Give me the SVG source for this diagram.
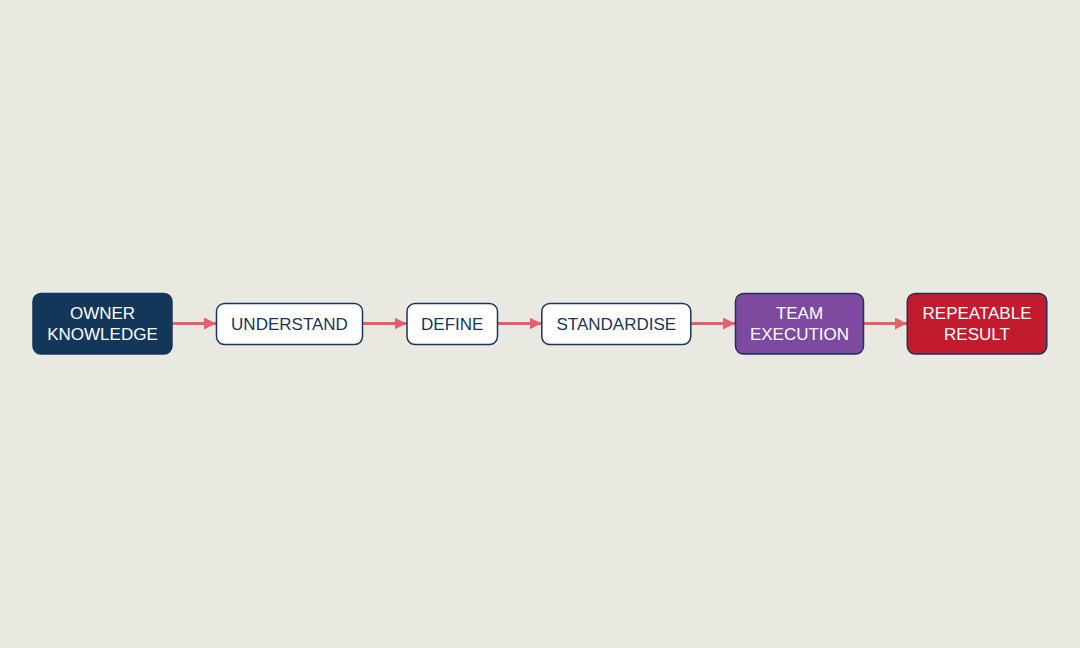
<svg xmlns="http://www.w3.org/2000/svg" width="1080" height="648" viewBox="0 0 1080 648">
<style>
.n rect{stroke:#17365a;stroke-width:1.5}
.t{font-family:"Liberation Sans",Arial,sans-serif;font-size:17px;text-anchor:middle}
.w{fill:#ffffff}
.d{fill:#17365a}
.e{stroke:#e5606b;stroke-width:3;fill:none;marker-end:url(#a)}
</style>
<defs>
<marker id="a" viewBox="0 0 10 10" refX="10" refY="5" markerWidth="4" markerHeight="4" markerUnits="strokeWidth" orient="auto">
<path d="M0,0 L10,5 L0,10 z" fill="#e5606b"/>
</marker>
</defs>
<rect width="1080" height="648" fill="#eae9e1"/>
<g id="edges">
<line class="e" x1="172" y1="323.5" x2="216" y2="323.5"/>
<line class="e" x1="362.5" y1="323.5" x2="406.5" y2="323.5"/>
<line class="e" x1="497.5" y1="323.5" x2="541.5" y2="323.5"/>
<line class="e" x1="691" y1="323.5" x2="735" y2="323.5"/>
<line class="e" x1="863.5" y1="323.5" x2="907" y2="323.5"/>
</g>
<g id="owner" class="n">
<rect x="33" y="293.5" width="139" height="60.5" rx="8" fill="#12375a"/>
<text class="t w" x="102.5" y="319">OWNER</text>
<text class="t w" x="102.5" y="339.5">KNOWLEDGE</text>
</g>
<g id="understand" class="n">
<rect x="216.5" y="303.5" width="146" height="41" rx="8" fill="#ffffff"/>
<text class="t d" x="289.5" y="329.5">UNDERSTAND</text>
</g>
<g id="define" class="n">
<rect x="407" y="303.5" width="90.5" height="41" rx="8" fill="#ffffff"/>
<text class="t d" x="452.2" y="329.5">DEFINE</text>
</g>
<g id="standardise" class="n">
<rect x="541.8" y="303.5" width="149" height="41" rx="8" fill="#ffffff"/>
<text class="t d" x="616.3" y="329.5">STANDARDISE</text>
</g>
<g id="team" class="n">
<rect x="735.5" y="293.5" width="128" height="60.5" rx="8" fill="#7d4a9f"/>
<text class="t w" x="799.5" y="319">TEAM</text>
<text class="t w" x="799.5" y="339.5">EXECUTION</text>
</g>
<g id="result" class="n">
<rect x="907.3" y="293.5" width="139.5" height="60.5" rx="8" fill="#c21b2d"/>
<text class="t w" x="977" y="319">REPEATABLE</text>
<text class="t w" x="977" y="339.5">RESULT</text>
</g>
</svg>
